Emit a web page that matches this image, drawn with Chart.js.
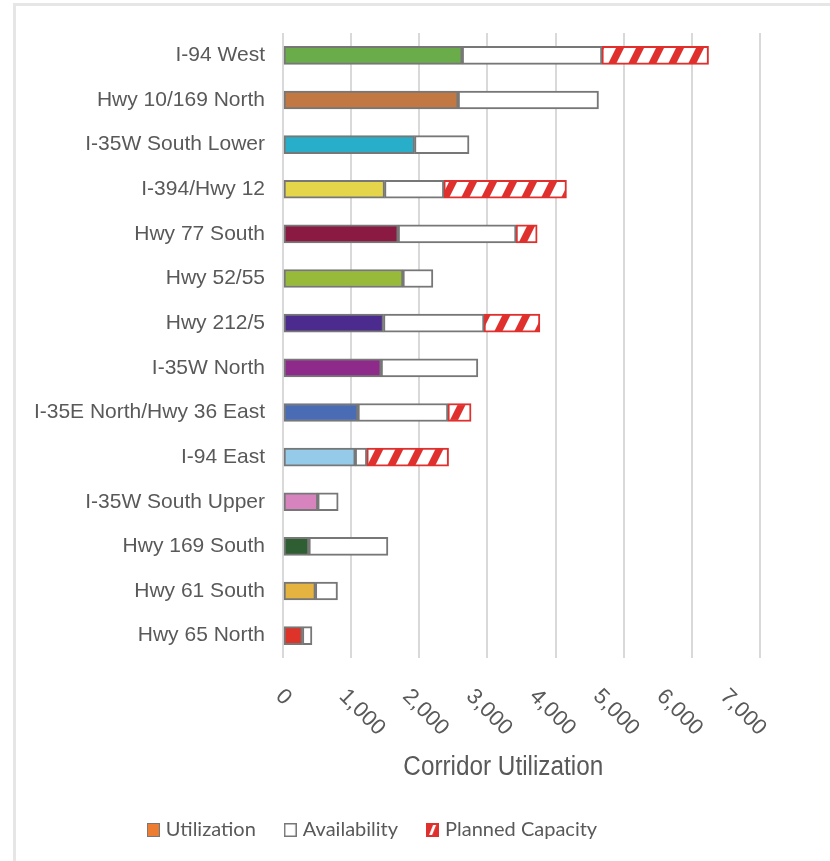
<!DOCTYPE html>
<html>
<head>
<meta charset="utf-8">
<script src="https://cdn.jsdelivr.net/npm/chart.js@4.4.1/dist/chart.umd.min.js"></script>
<style>
  html, body { margin: 0; padding: 0; background: #fff; width: 830px; height: 861px; overflow: hidden; }
  .frame { position: absolute; left: 13px; top: 3px; width: 840px; height: 880px;
           border-left: 3px solid #e6e6e6; border-top: 3px solid #e6e6e6; }
  .wrap { position: absolute; left: 0; top: 0; width: 830px; height: 861px; }
</style>
</head>
<body>
<div class="frame"></div>
<div class="wrap"><canvas id="c" width="830" height="861"></canvas></div>
<script>
const categories = [
  'I-94 West', 'Hwy 10/169 North', 'I-35W South Lower', 'I-394/Hwy 12', 'Hwy 77 South',
  'Hwy 52/55', 'Hwy 212/5', 'I-35W North', 'I-35E North/Hwy 36 East', 'I-94 East',
  'I-35W South Upper', 'Hwy 169 South', 'Hwy 61 South', 'Hwy 65 North'
];
const utilization  = [2630, 2570, 1930, 1490, 1690, 1760, 1475, 1440, 1100, 1060, 510, 380, 475, 285];
const availability = [2050, 2060,  800,  870, 1730,  440, 1475, 1420, 1320,  170, 300, 1160, 325, 140];
const plannedCapacity = [1565, null, null, 1800, 310, null, 820, null, 340, 1200, null, null, null, null];
const utilizationColors = [
  '#6AAC4A', '#C27842', '#28AEC9', '#E4D54A', '#8A1A42', '#97BA3B', '#4B2B8E',
  '#8E2A8A', '#4A6CB5', '#95CBE9', '#D683BE', '#2F5E33', '#E5B33F', '#DD3329'
];
const xTickLabels = ['0', '1,000', '2,000', '3,000', '4,000', '5,000', '6,000', '7,000'];
const legendLabels = ['Utilization', 'Availability', 'Planned Capacity'];
const axisTitle = 'Corridor Utilization';

const RED = '#E0302E';
const GRAY_BORDER = '#777777';
const TEXT = '#595959';
const LABEL_SQUEEZE = 0.932;   // the axis labels in the original are laid out slightly tighter than the grid

const canvas = document.getElementById('c');
const mainCtx = canvas.getContext('2d');

function makeHatch() {
  const t = document.createElement('canvas');
  t.width = 20; t.height = 40;
  const g = t.getContext('2d');
  g.fillStyle = '#fff'; g.fillRect(0, 0, 20, 40);
  g.fillStyle = RED;
  for (const dx of [-20, 0, 20]) {
    g.beginPath();
    g.moveTo(dx, 40); g.lineTo(dx + 8, 40); g.lineTo(dx + 28, 0); g.lineTo(dx + 20, 0);
    g.closePath(); g.fill();
  }
  return mainCtx.createPattern(t, 'repeat');
}

function legendImg(kind) {
  const t = document.createElement('canvas');
  t.width = 13; t.height = 14;
  const g = t.getContext('2d');
  if (kind === 0) {
    g.fillStyle = '#ED7D31'; g.fillRect(0, 0, 13, 14);
    g.strokeStyle = GRAY_BORDER; g.lineWidth = 1; g.strokeRect(0.5, 0.5, 12, 13);
  } else if (kind === 1) {
    g.fillStyle = '#fff'; g.fillRect(0, 0, 13, 14);
    g.strokeStyle = GRAY_BORDER; g.lineWidth = 1.5; g.strokeRect(0.75, 0.75, 11.5, 12.5);
  } else {
    g.fillStyle = RED; g.fillRect(0, 0, 13, 14);
    g.fillStyle = '#fff';
    g.beginPath(); g.moveTo(3, 12); g.lineTo(6, 12); g.lineTo(10, 2); g.lineTo(7, 2); g.closePath(); g.fill();
  }
  return t;
}
const legendImgs = [legendImg(0), legendImg(1), legendImg(2)];

const legendShiftPlugin = {
  id: 'legendShift',
  afterLayout(chart) {
    if (chart.legend) { chart.legend.left -= 6; chart.legend.right -= 6; }
  }
};

const xLabelPlugin = {
  id: 'rotatedXLabels',
  afterDraw(chart) {
    const s = chart.scales.x;
    const ctx = chart.ctx;
    const squeeze = px => s.left + (px - s.left) * LABEL_SQUEEZE;
    ctx.save();
    ctx.font = '22px "Liberation Sans", Arial, sans-serif';
    ctx.fillStyle = TEXT;
    ctx.textAlign = 'left';
    ctx.textBaseline = 'middle';
    s.ticks.forEach((t, i) => {
      const x = squeeze(s.getPixelForValue(t.value));
      ctx.save();
      ctx.translate(x - 4, s.top + 35);
      ctx.rotate(Math.PI / 4);
      ctx.fillText(xTickLabels[i] ?? String(t.value), 0, 0);
      ctx.restore();
    });
    // axis title
    ctx.save();
    ctx.translate(squeeze((s.left + s.right) / 2) - 2, s.top + 110);
    ctx.scale(0.9, 1);
    ctx.font = '27px "Liberation Sans", Arial, sans-serif';
    ctx.textAlign = 'center';
    ctx.fillText(axisTitle, 0, 0);
    ctx.restore();
    ctx.restore();
  }
};

const hatch = makeHatch();

new Chart(canvas, {
  type: 'bar',
  data: {
    labels: categories,
    datasets: [
      {
        label: legendLabels[0], data: utilization, backgroundColor: utilizationColors,
        borderColor: GRAY_BORDER, borderWidth: 2, borderSkipped: false, barThickness: 18
      },
      {
        label: legendLabels[1], data: availability, backgroundColor: '#ffffff',
        borderColor: GRAY_BORDER, borderWidth: 2, borderSkipped: false, barThickness: 18
      },
      {
        label: legendLabels[2], data: plannedCapacity, backgroundColor: hatch,
        borderColor: RED, borderWidth: 2, borderSkipped: false, barThickness: 18
      }
    ]
  },
  options: {
    indexAxis: 'y',
    responsive: false,
    animation: false,
    devicePixelRatio: 1,
    layout: { padding: { left: 0, right: 70, top: 33, bottom: 11 } },
    scales: {
      x: {
        stacked: true, min: 0, max: 7000,
        ticks: { display: false, stepSize: 1000 },
        grid: { color: '#d9d9d9', lineWidth: 2, drawTicks: false },
        border: { display: false },
        title: { display: false, text: axisTitle },
        afterFit(s) { s.height = 130; }
      },
      y: {
        stacked: true,
        ticks: { color: TEXT, padding: 18, font: { family: '"Liberation Sans", Arial', size: 21 } },
        grid: { display: false, drawTicks: false },
        border: { display: false },
        afterFit(s) { s.width = 283; }
      }
    },
    plugins: {
      tooltip: { enabled: false },
      legend: {
        position: 'bottom',
        labels: {
          usePointStyle: true, pointStyleWidth: 5, boxHeight: 14,
          font: { family: 'Lato', size: 20 }, color: TEXT, padding: 32,
          generateLabels: () => legendLabels.map((t, i) => ({
            text: t, pointStyle: legendImgs[i], fillStyle: 'transparent', strokeStyle: 'transparent',
            lineWidth: 0, hidden: false, datasetIndex: i, fontColor: TEXT
          }))
        }
      }
    }
  },
  plugins: [legendShiftPlugin, xLabelPlugin]
});
</script>
</body>
</html>
